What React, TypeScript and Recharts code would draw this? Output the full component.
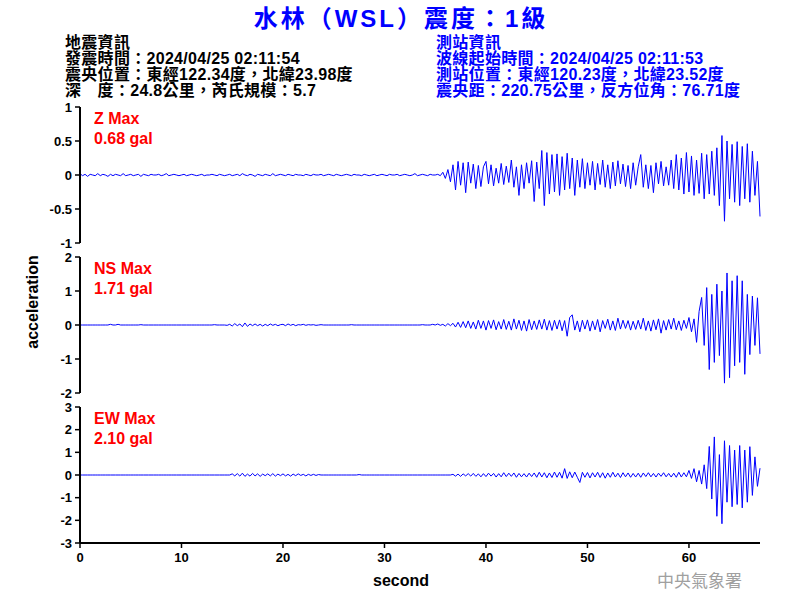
import React from 'react';
import { LineChart, Line, XAxis, YAxis } from 'recharts';

// sample spacing of the traces, seconds
const STEP = 0.25;

// Z component, one row = 5 s
const zValues = [
  0.02, -0.01, 0.01, -0.02, 0.01, 0, -0.01, 0.02, -0.01, 0.01, 0, -0.02, 0.01, -0.01, 0.01, 0, -0.01, 0.02, -0.01, 0,
  0.01, -0.01, 0, 0.01, -0.02, 0.01, 0, -0.01, 0.01, 0, 0, 0.01, -0.01, 0, 0.02, -0.01, 0, 0.01, 0, -0.01,
  0, 0.01, -0.01, 0, 0.01, 0, -0.01, 0, 0.01, -0.01, 0, 0, 0.01, 0, -0.01, 0.01, 0, -0.01, 0, 0.01,
  -0.01, 0, 0.01, -0.01, 0.02, 0, -0.01, 0.01, 0, -0.02, 0.01, 0, -0.01, 0.01, 0, -0.01, 0.02, -0.01, 0, 0.01,
  0, -0.01, 0.01, 0, -0.01, 0.01, 0, 0, -0.01, 0.01, 0, -0.01, 0.01, 0, 0, 0.01, -0.01, 0, 0.01, 0,
  -0.01, 0.01, 0, -0.01, 0, 0.01, 0, -0.01, 0.01, 0, 0, -0.01, 0.01, 0, -0.01, 0, 0.01, -0.01, 0, 0.01,
  0, -0.01, 0.01, 0, 0, 0.01, -0.01, 0, 0.01, 0, -0.01, 0, 0.02, -0.01, 0, 0.01, 0, -0.01, 0.01, 0,
  0, 0.01, -0.01, 0.04, -0.05, 0.08, -0.1, 0.15, -0.22, 0.2, -0.15, 0.18, -0.26, 0.19, -0.12, 0.16, -0.2, 0.14, -0.17, 0.12,
  0.2, -0.13, 0.15, -0.16, 0.1, -0.12, 0.17, -0.14, 0.13, -0.11, 0.22, -0.18, 0.12, -0.3, 0.15, -0.2, 0.18, -0.12, 0.21, -0.39,
  0.19, -0.2, 0.36, -0.45, 0.33, -0.28, 0.3, -0.25, 0.31, -0.3, 0.27, -0.22, 0.32, -0.2, 0.25, -0.3, 0.22, -0.18, 0.24, -0.2,
  0.18, -0.15, 0.2, -0.22, 0.17, -0.14, 0.22, -0.18, 0.15, -0.2, 0.19, -0.16, 0.21, -0.13, 0.16, -0.17, 0.14, -0.2, 0.18, -0.15,
  0.12, 0.3, -0.18, 0.15, -0.2, 0.14, -0.26, 0.18, -0.13, 0.2, -0.16, 0.12, -0.15, 0.22, -0.2, 0.3, -0.22, 0.25, -0.28, 0.33,
  -0.25, 0.28, -0.3, 0.22, -0.27, 0.32, -0.35, 0.3, -0.28, 0.35, -0.3, 0.4, -0.45, 0.58, -0.68, 0.5, -0.35, 0.45, -0.4, 0.49,
  -0.45, 0.42, -0.35, 0.46, -0.4, 0.35, -0.3, 0.2, -0.61,
];

// NS component
const nsValues = [
  0, 0, 0, 0, 0, 0, 0, 0, 0, 0, 0, 0, 0.02, 0, 0, 0.02, 0, 0, 0, 0,
  0, 0, 0, 0, 0.01, 0, 0, 0, 0, 0, 0, 0, 0, 0, 0, 0, 0, 0, 0, 0,
  0, 0, 0, 0, 0, 0, 0, 0, 0, 0, 0, 0, 0, 0.01, 0, 0, 0, 0, -0.01, 0.02,
  -0.03, 0.04, -0.02, 0.03, -0.05, 0.06, -0.04, 0.03, -0.02, 0.03, -0.02, 0.02, -0.03, 0.02, -0.02, 0.03, -0.01, 0.02, -0.02, 0.01,
  0.02, -0.02, 0.03, -0.01, 0.02, -0.02, 0.01, 0, 0.02, -0.01, 0.01, 0, 0.01, -0.01, 0, 0.01, 0, 0, 0, 0,
  0, 0, 0, 0, 0, 0, 0, 0.01, 0, 0, 0, 0, 0, 0, 0, 0, 0, 0, 0, 0,
  0, 0, 0, 0, 0, 0, 0, 0, 0, 0, 0, 0, 0, 0, 0, 0.01, 0, 0, 0, 0.02,
  0, 0.03, -0.01, 0.02, -0.03, 0.04, -0.02, 0.05, -0.06, 0.08, -0.07, 0.1, -0.08, 0.12, -0.1, 0.09, -0.12, 0.14, -0.1, 0.12,
  -0.15, 0.13, -0.1, 0.15, -0.14, 0.1, -0.12, 0.16, -0.13, 0.11, -0.15, 0.18, -0.12, 0.14, -0.16, 0.12, -0.18, 0.16, -0.14, 0.12,
  -0.13, 0.15, -0.12, 0.17, -0.15, 0.13, -0.16, 0.14, -0.12, 0.15, -0.17, 0.13, -0.33, 0.22, 0.3, -0.15, 0.12, -0.2, 0.14, -0.12,
  0.15, -0.18, 0.12, -0.14, 0.16, -0.2, 0.13, -0.1, 0.17, -0.15, 0.12, -0.16, 0.2, -0.12, 0.14, -0.1, 0.13, -0.15, 0.11, -0.13,
  0.14, -0.12, 0.2, -0.16, 0.12, -0.18, 0.15, -0.14, 0.18, -0.24, 0.13, -0.15, 0.16, -0.12, 0.2, -0.14, 0.12, -0.16, 0.14, -0.1,
  0.22, -0.2, 0.18, -0.51, 0.4, 0.81, -0.6, 1.1, -1.31, 0.9, -1.1, 1.2, -0.9, 1.0, -1.71, 1.53, -1.55, 1.3, -1.2, 1.45,
  -1.1, 1.3, -1.45, 0.9, -0.87, 0.85, -0.6, 0.8, -0.85,
];

// EW component
const ewValues = [
  0, 0, 0, 0, 0, 0, 0, 0, 0, 0, 0, 0, 0, 0, 0, 0, 0, 0, 0, 0,
  0, 0, 0, 0, 0, 0, 0, 0, 0, 0, 0, 0, 0, 0, 0, 0, 0, 0, 0, 0,
  0, 0, 0, 0, 0, 0, 0, 0, 0, 0, 0, 0, 0, 0, 0, 0, 0, 0, 0, 0,
  0.05, -0.04, 0.06, -0.05, 0.08, -0.06, 0.04, -0.05, 0.07, -0.04, 0.05, -0.06, 0.04, -0.03, 0.05, -0.04, 0.06, -0.05, 0.04, -0.03,
  0.05, -0.04, 0.03, -0.05, 0.04, -0.03, 0.05, -0.02, 0.03, -0.04, 0.03, -0.02, 0.03, -0.02, 0.02, 0, 0, 0, 0, 0,
  0, 0, 0, 0, 0, 0, 0, 0, 0, 0, 0.02, 0, 0, 0, 0, 0, 0, 0, 0, 0,
  0, 0, 0, 0, 0, 0, 0, 0, 0, 0, 0, 0, 0, 0, 0, 0, 0, 0, 0, 0,
  0, 0, 0, 0, 0, 0, 0, 0.03, -0.05, 0.04, -0.06, 0.05, -0.04, 0.06, -0.05, 0.07, -0.06, 0.05, -0.08, 0.06,
  -0.07, 0.08, -0.05, 0.07, -0.09, 0.06, -0.08, 0.1, -0.07, 0.08, -0.06, 0.09, -0.1, 0.07, -0.08, 0.06, -0.09, 0.08, -0.07, 0.09,
  -0.1, 0.12, -0.09, 0.1, -0.12, 0.09, -0.11, 0.13, -0.1, 0.12, -0.14, 0.28, -0.15, 0.14, -0.12, 0.13, -0.1, -0.33, 0.12, -0.1,
  0.11, -0.13, 0.1, -0.09, 0.12, -0.11, 0.1, -0.14, 0.09, -0.1, 0.12, -0.09, 0.08, -0.11, 0.1, -0.08, 0.09, -0.1, 0.07, -0.09,
  0.08, -0.1, 0.09, -0.07, 0.1, -0.08, 0.07, -0.09, 0.08, -0.06, 0.1, -0.08, 0.07, -0.09, 0.08, -0.1, 0.12, -0.09, 0.1, -0.08,
  0.2, -0.15, 0.28, -0.3, 0.2, -0.4, 0.45, -0.6, 1.26, -1.06, 1.68, -1.82, 0.9, -2.15, 1.51, -1.2, 1.3, -1.4, 1.1, -1.3,
  1.3, -1.45, 1.1, -1.2, 1.25, -0.9, 0.8, -0.5, 0.3,
];

const xTicks = [0, 10, 20, 30, 40, 50, 60];
const zTicks = [-1, -0.5, 0, 0.5, 1];
const nsTicks = [-2, -1, 0, 1, 2];
const ewTicks = [-3, -2, -1, 0, 1, 2, 3];

const leftInfo = [
  '地震資訊',
  '發震時間：2024/04/25 02:11:54',
  '震央位置：東經122.34度，北緯23.98度',
  '深　度：24.8公里，芮氏規模：5.7',
];
const rightInfo = [
  '測站資訊',
  '波線起始時間：2024/04/25 02:11:53',
  '測站位置：東經120.23度，北緯23.52度',
  '震央距：220.75公里，反方位角：76.71度',
];

const rows = zValues.map((z, i) => ({ t: i * STEP, z, ns: nsValues[i], ew: ewValues[i] }));

const FONT = "'Liberation Sans', Arial, 'Noto Sans CJK TC', sans-serif";
const tickStyle = { fill: '#000', fontSize: 13, fontWeight: 'bold', fontFamily: FONT };

function Trace({ top, height, bottom, keyName, ticks, showX }) {
  const max = ticks[ticks.length - 1];
  return (
    <div style={{ position: 'absolute', left: 0, top }}>
      <LineChart width={800} height={height} data={rows} margin={{ top: 10, right: 40, bottom, left: 40 }}>
        <XAxis
          type="number"
          dataKey="t"
          domain={[0, 67]}
          ticks={xTicks}
          hide={!showX}
          height={30}
          tickSize={5}
          tickMargin={5}
          axisLine={{ stroke: '#000', strokeWidth: 2 }}
          tickLine={{ stroke: '#000', strokeWidth: 1.5 }}
          tick={tickStyle}
        />
        <YAxis
          type="number"
          domain={[-max, max]}
          ticks={ticks}
          interval={0}
          width={40}
          tickSize={5}
          tickMargin={3}
          axisLine={{ stroke: '#000', strokeWidth: 2 }}
          tickLine={{ stroke: '#000', strokeWidth: 1.5 }}
          tick={tickStyle}
        />
        <Line
          type="linear"
          dataKey={keyName}
          stroke="#0000ff"
          strokeWidth={1}
          dot={false}
          isAnimationActive={false}
        />
      </LineChart>
    </div>
  );
}

export default function App() {
  return (
    <div style={{ position: 'absolute', left: 0, top: 0, width: 800, height: 600, background: '#fff' }}>
      <Trace top={97} height={156} bottom={10} keyName="z" ticks={zTicks} showX={false} />
      <Trace top={247} height={156} bottom={10} keyName="ns" ticks={nsTicks} showX={false} />
      <Trace top={397} height={176} bottom={0} keyName="ew" ticks={ewTicks} showX={true} />

      <svg width={800} height={600} style={{ position: 'absolute', left: 0, top: 0, pointerEvents: 'none' }}>
        <text x={401} y={27} textAnchor="middle" fill="#0000ff" fontSize={24} fontWeight="bold" fontFamily={FONT} letterSpacing={3}>
          水林（WSL）震度：1級
        </text>
        {leftInfo.map((line, i) => (
          <text key={line} x={65} y={47.5 + i * 16} fill="#000" fontSize={16} fontWeight="bold" fontFamily={FONT} letterSpacing={0.3}>
            {line}
          </text>
        ))}
        {rightInfo.map((line, i) => (
          <text key={line} x={436} y={47.5 + i * 16} fill="#0000ff" fontSize={16} fontWeight="bold" fontFamily={FONT} letterSpacing={0.3}>
            {line}
          </text>
        ))}

        <g fill="#ff0000" fontSize={16} fontWeight="bold" fontFamily={FONT}>
          <text x={94} y={123.5}>Z Max</text>
          <text x={94} y={143.5}>0.68 gal</text>
          <text x={94} y={273.5}>NS Max</text>
          <text x={94} y={293.5}>1.71 gal</text>
          <text x={94} y={423.5}>EW Max</text>
          <text x={94} y={443.5}>2.10 gal</text>
        </g>

        <text
          x={38}
          y={302}
          transform="rotate(-90 38 302)"
          textAnchor="middle"
          fill="#000"
          fontSize={16}
          fontWeight="bold"
          fontFamily={FONT}
        >
          acceleration
        </text>
        <text x={401} y={586} textAnchor="middle" fill="#000" fontSize={16} fontWeight="bold" fontFamily={FONT}>
          second
        </text>
        <text x={657} y={587} fill="#a0a0a0" fontSize={17} fontFamily="'Noto Sans CJK TC', sans-serif">
          中央氣象署
        </text>
      </svg>
    </div>
  );
}
